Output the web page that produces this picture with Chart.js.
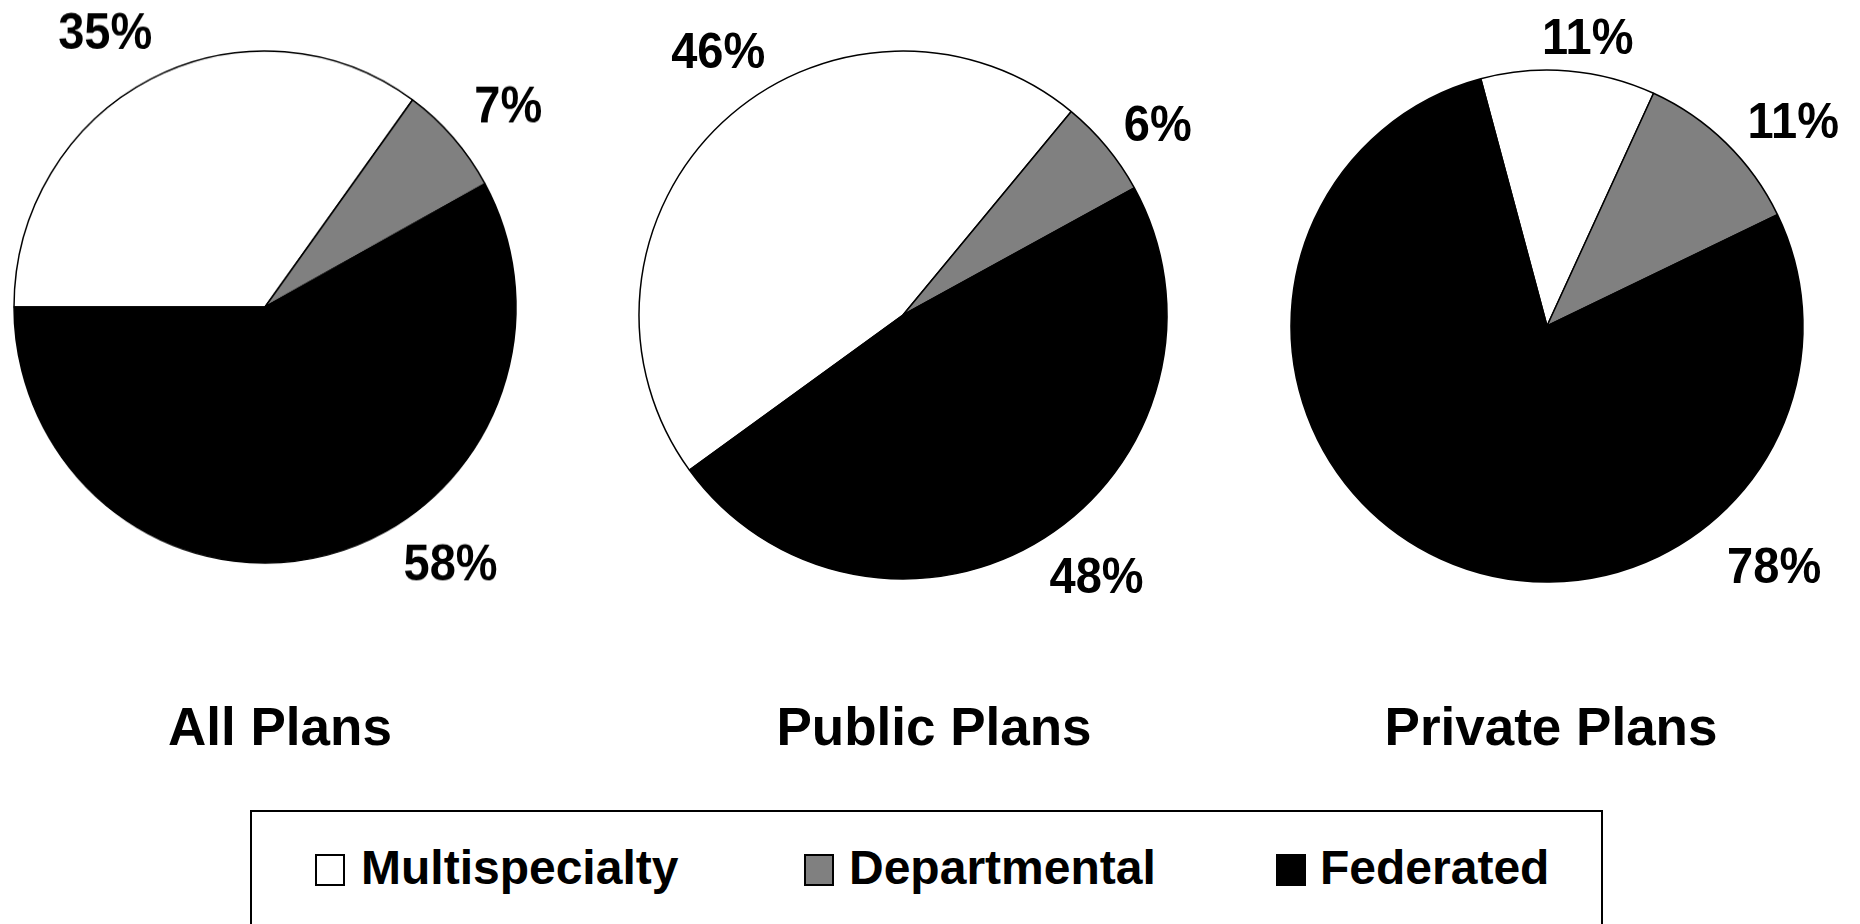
<!DOCTYPE html>
<html>
<head>
<meta charset="utf-8">
<script src="https://cdn.jsdelivr.net/npm/chart.js@4.4.1/dist/chart.umd.min.js"></script>
<style>
html,body{margin:0;padding:0;width:1860px;height:924px;overflow:hidden;background:#fff;}
body{position:relative;font-family:"Liberation Sans",Arial,Helvetica,sans-serif;color:#000;}
.pie{position:absolute;width:820px;height:820px;transform-origin:50% 50%;}
.title{position:absolute;width:600px;text-align:center;font-weight:bold;font-size:53px;line-height:53px;white-space:nowrap;}
#legendBox{position:absolute;left:250px;top:810px;width:1353px;height:140px;border:2px solid #000;box-sizing:border-box;}
.sw{position:absolute;top:854px;width:30px;height:32px;border:2px solid #000;box-sizing:border-box;}
.lt{position:absolute;top:844px;font-weight:bold;font-size:48px;line-height:48px;white-space:nowrap;}
</style>
</head>
<body>
<div id="legendBox"></div>
<script>
// ---- data ----
const categories = ['Multispecialty', 'Departmental', 'Federated'];
const planTitles = ['All Plans', 'Public Plans', 'Private Plans'];
const allPlans = [35, 7, 58];
const publicPlans = [46, 6, 48];
const privatePlans = [11, 11, 78];
const sliceColors = ['#FFFFFF', '#808080', '#000000'];

// ---- layout (positions / styles) ----
const pieLayout = [
  {values: allPlans,     cx: 264.5, cy: 306.5, r: 251, sy: 1.02, rotation: -90, angles: [-30.6, 50.8, 143.5], dist: [314, 314, 312], titleX: 280},
  {values: publicPlans,  cx: 903,   cy: 315,   r: 264, sy: 1,    rotation: 234, angles: [-34.9, 53.0, 143.3], dist: [323, 319, 324], titleX: 934},
  {values: privatePlans, cx: 1547,  cy: 326,   r: 256, sy: 1,    rotation: -15, angles: [8.0, 50.1, 136.5],   dist: [293, 321, 330], titleX: 1551}
];
const titleTop = 700;
const legendSwatchX = [315, 804, 1276];
const legendTextX = [361, 849, 1320];
const PIE_BOX = 820;
const LABEL_SIZE = 47;
const LABEL_STRETCH = 1.07;

const pctLabels = {
  id: 'pctLabels',
  afterDatasetsDraw(chart, args, opts) {
    const ctx = chart.ctx;
    const meta = chart.getDatasetMeta(0);
    const data = chart.data.datasets[0].data;
    meta.data.forEach((arc, i) => {
      const a = opts.angles[i] * Math.PI / 180;
      const d = opts.dist[i];
      const x = arc.x + d * Math.sin(a);
      const y = arc.y - d * Math.cos(a);
      ctx.save();
      ctx.font = 'bold ' + opts.size + 'px "Liberation Sans", Arial, sans-serif';
      ctx.fillStyle = '#000';
      ctx.textAlign = 'center';
      ctx.textBaseline = 'alphabetic';
      ctx.translate(x, y);
      ctx.scale(1, opts.stretch);
      ctx.fillText(data[i] + '%', 0, opts.size * 0.358);
      ctx.restore();
    });
  }
};

pieLayout.forEach((p, idx) => {
  const box = document.createElement('div');
  box.className = 'pie';
  box.style.left = (p.cx - PIE_BOX / 2) + 'px';
  box.style.top = (p.cy - PIE_BOX / 2) + 'px';
  box.style.transform = 'scaleY(' + p.sy + ')';
  const cv = document.createElement('canvas');
  box.appendChild(cv);
  document.body.appendChild(box);

  new Chart(cv, {
    type: 'pie',
    data: {
      labels: categories,
      datasets: [{
        data: p.values,
        backgroundColor: sliceColors,
        borderColor: '#000000',
        borderWidth: 1.5
      }]
    },
    options: {
      responsive: true,
      maintainAspectRatio: false,
      animation: false,
      events: [],
      radius: p.r,
      rotation: p.rotation,
      layout: {padding: 0},
      plugins: {
        legend: {display: false},
        tooltip: {enabled: false},
        title: {display: false},
        pctLabels: {size: LABEL_SIZE, stretch: LABEL_STRETCH / p.sy, angles: p.angles, dist: p.dist}
      }
    },
    plugins: [pctLabels]
  });

  const t = document.createElement('div');
  t.className = 'title';
  t.textContent = planTitles[idx];
  t.style.left = (p.titleX - 300) + 'px';
  t.style.top = titleTop + 'px';
  document.body.appendChild(t);
});

categories.forEach((c, i) => {
  const sw = document.createElement('div');
  sw.className = 'sw';
  sw.style.left = legendSwatchX[i] + 'px';
  sw.style.background = sliceColors[i];
  document.body.appendChild(sw);
  const lt = document.createElement('div');
  lt.className = 'lt';
  lt.style.left = legendTextX[i] + 'px';
  lt.textContent = c;
  document.body.appendChild(lt);
});
</script>
</body>
</html>
